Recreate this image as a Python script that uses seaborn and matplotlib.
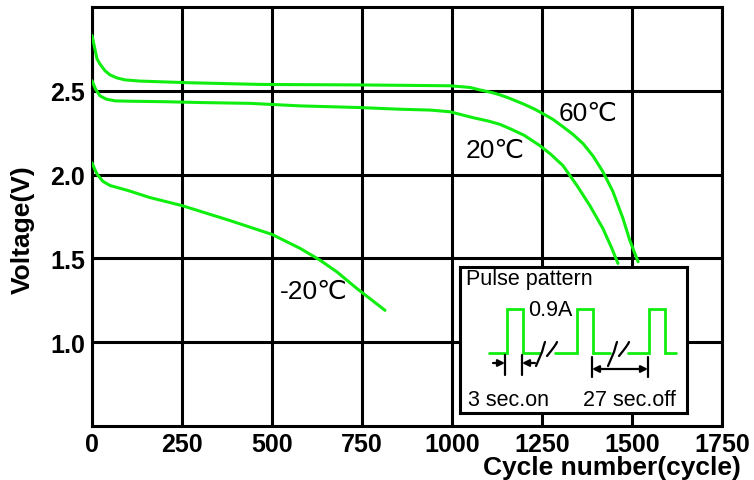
import numpy as np
import pandas as pd
import matplotlib
matplotlib.use("Agg")
import matplotlib.pyplot as plt
from matplotlib.patches import FancyArrowPatch
import seaborn as sns

# ---------------- data ----------------
cyc_60 = [0, 8, 14, 22, 36, 50, 69, 92, 133, 272, 467, 750, 994, 1050, 1078, 1110, 1133,
          1160, 1200, 1230, 1253, 1280, 1308, 1336, 1364, 1392, 1419, 1447, 1475, 1494, 1517]
v_60 = [2.83, 2.75, 2.69, 2.66, 2.62, 2.595, 2.577, 2.565, 2.558, 2.548, 2.538, 2.535,
        2.53, 2.52, 2.505, 2.49, 2.476, 2.455, 2.42, 2.39, 2.363, 2.33, 2.286, 2.24, 2.185,
        2.11, 2.018, 1.899, 1.738, 1.607, 1.48]

cyc_20 = [0, 10, 22, 40, 64, 100, 200, 300, 440, 578, 744, 856, 939, 994, 1058, 1100, 1133,
          1161, 1200, 1244, 1275, 1308, 1347, 1383, 1419, 1444, 1461]
v_20 = [2.56, 2.51, 2.47, 2.45, 2.44, 2.438, 2.435, 2.43, 2.425, 2.41, 2.40, 2.39, 2.385,
        2.375, 2.34, 2.32, 2.30, 2.274, 2.235, 2.173, 2.12, 2.054, 1.935, 1.815, 1.679,
        1.56, 1.47]

cyc_m20 = [0, 8, 15, 30, 50, 100, 161, 250, 383, 500, 578, 633, 680, 736, 772, 814]
v_m20 = [2.07, 2.03, 2.00, 1.96, 1.935, 1.905, 1.863, 1.815, 1.726, 1.643, 1.56, 1.49,
         1.42, 1.32, 1.26, 1.19]

series_names = ["60℃", "20℃", "-20℃"]
x_ticks = [0, 250, 500, 750, 1000, 1250, 1500, 1750]
y_ticks = [1.0, 1.5, 2.0, 2.5]

# Pulse-pattern schematic (inset box coordinates)
pulse_x = [29, 47, 47, 63, 63, 80]
pulse_x2 = [95, 117, 117, 133, 133, 150]
pulse_x3 = [168, 189, 189, 205, 205, 216]
pulse_y = [86, 86, 42, 42, 86, 86]

df = pd.concat([
    pd.DataFrame({"cycle": cyc_60, "voltage": v_60, "temp": series_names[0]}),
    pd.DataFrame({"cycle": cyc_20, "voltage": v_20, "temp": series_names[1]}),
    pd.DataFrame({"cycle": cyc_m20, "voltage": v_m20, "temp": series_names[2]}),
])

# ---------------- style ----------------
sns.set_style("white")
plt.rcParams["font.family"] = ["Liberation Sans", "DejaVu Sans"]
plt.rcParams["text.color"] = "black"
plt.rcParams["axes.labelcolor"] = "black"
plt.rcParams["xtick.color"] = "black"
plt.rcParams["ytick.color"] = "black"

GREEN = "#10ee10"
LW = 2.2

fig = plt.figure(figsize=(7.54, 4.81), dpi=100)
ax = fig.add_axes([92 / 754, 54 / 481, 630 / 754, 419 / 481])

sns.lineplot(data=df, x="cycle", y="voltage", hue="temp", units="temp",
             estimator=None, sort=False,
             palette={n: GREEN for n in series_names}, linewidth=LW,
             legend=False, ax=ax, zorder=5)

ax.set_xlim(0, 1750)
ax.set_ylim(0.5, 3.0)
ax.set_xticks(x_ticks)
ax.set_yticks(y_ticks)
ax.set_xticklabels([str(t) for t in x_ticks])
ax.set_yticklabels([f"{t:.1f}" for t in y_ticks])
ax.grid(True, color="black", linewidth=2.2, zorder=1)
ax.set_axisbelow(True)
for s in ax.spines.values():
    s.set_color("black")
    s.set_linewidth(2.2)
    s.set_visible(True)
ax.tick_params(axis="both", length=0, labelsize=18, labelcolor="black")
ax.tick_params(axis="y", pad=5)
ax.tick_params(axis="x", pad=4)
for lab in ax.get_xticklabels() + ax.get_yticklabels():
    lab.set_fontweight("bold")
ax.set_xlabel("")
ax.set_ylabel("")

fig.text(23 / 754, 1 - 230 / 481, "Voltage(V)", rotation=90, ha="center", va="center",
         fontsize=19, fontweight="bold", color="black")
fig.text(741 / 754, 1 - 468 / 481, "Cycle number(cycle)", ha="right", va="center",
         fontsize=19, fontweight="bold", color="black")

# curve labels
lab_pos = {"60℃": (1378, 2.37), "20℃": (1121, 2.149), "-20℃": (617, 1.307)}
for name in series_names:
    x, y = lab_pos[name]
    ax.text(x, y, name, ha="center", va="center", fontsize=19, color="black",
            family=["Liberation Sans", "DejaVu Sans"], zorder=6)

# ---------------- inset: pulse pattern ----------------
W, H = 227, 146
iax = fig.add_axes([460 / 754, 1 - 414 / 481, W / 754, H / 481], zorder=10)
iax.set_xlim(0, W)
iax.set_ylim(H, 0)
iax.set_facecolor("white")
iax.set_xticks([])
iax.set_yticks([])
for s in iax.spines.values():
    s.set_color("black")
    s.set_linewidth(2.2)
    s.set_visible(True)

for px in (pulse_x, pulse_x2, pulse_x3):
    iax.plot(px, pulse_y, color=GREEN, lw=2.0, solid_joinstyle="miter")

# break marks
for x0 in (76, 148):
    iax.plot([x0, x0 + 3, x0 + 6, x0 + 8, x0 + 9], [99, 92, 85, 78, 75], color="black", lw=1.6)
    iax.plot([x0 + 11, x0 + 15, x0 + 18, x0 + 20, x0 + 21], [89, 84, 80, 77, 75], color="black", lw=1.6)

# left arrows (3 sec on)
for xb in (45, 62):
    iax.plot([xb, xb], [88, 108], color="black", lw=1.6)
iax.add_patch(FancyArrowPatch((33, 96), (45, 96), arrowstyle="-|>", mutation_scale=10,
                              color="black", lw=1.6, shrinkA=0, shrinkB=0))
iax.add_patch(FancyArrowPatch((75, 96), (62, 96), arrowstyle="-|>", mutation_scale=10,
                              color="black", lw=1.6, shrinkA=0, shrinkB=0))
# right arrow (27 sec off)
for xb in (132, 188):
    iax.plot([xb, xb], [90, 110], color="black", lw=1.6)
iax.add_patch(FancyArrowPatch((132, 102), (188, 102), arrowstyle="<|-|>", mutation_scale=10,
                              color="black", lw=1.6, shrinkA=0, shrinkB=0))

iax.text(6, 12, "Pulse pattern", ha="left", va="center", fontsize=15.5, color="black")
iax.text(68, 42, "0.9A", ha="left", va="center", fontsize=15.5, color="black")
iax.text(8, 132, "3 sec.on", ha="left", va="center", fontsize=15.5, color="black")
iax.text(123, 132, "27 sec.off", ha="left", va="center", fontsize=15.5, color="black")

fig.savefig("out.png", dpi=100, facecolor="white")
